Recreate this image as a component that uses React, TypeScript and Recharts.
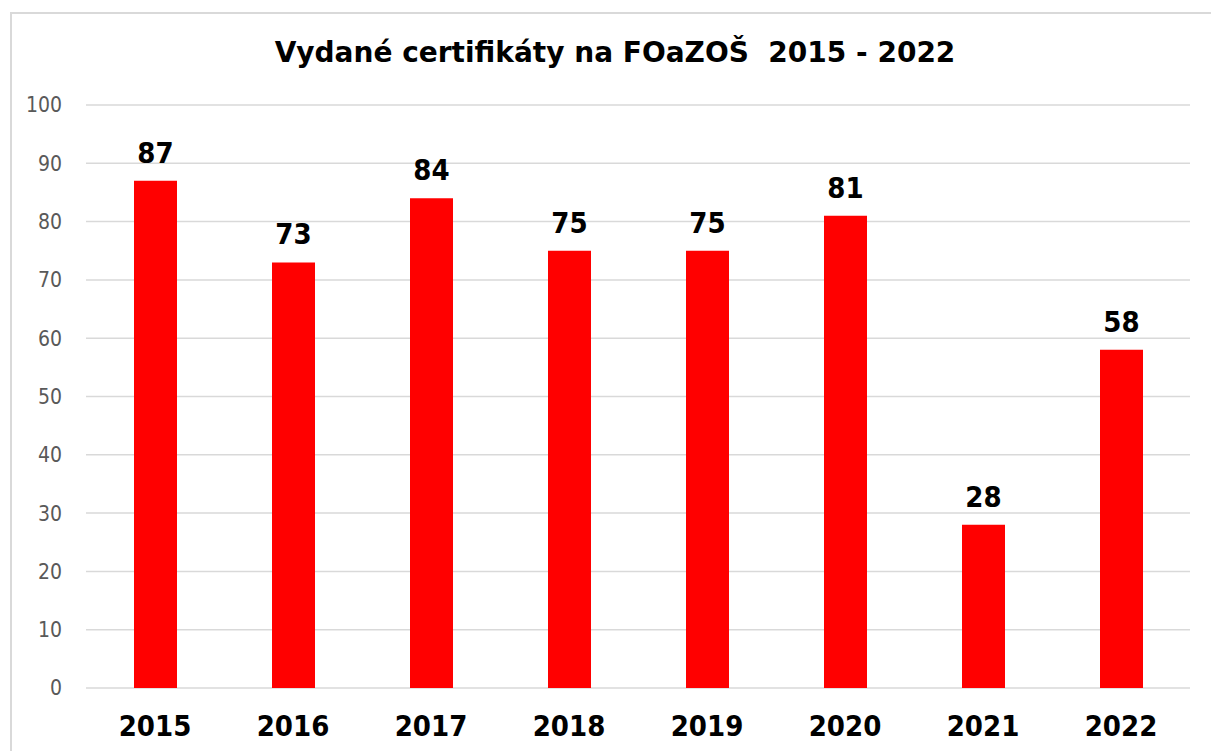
import React from "react";
import { BarChart, Bar, XAxis, YAxis, CartesianGrid, LabelList } from "recharts";

const years = ["2015", "2016", "2017", "2018", "2019", "2020", "2021", "2022"];
const certificates = [87, 73, 84, 75, 75, 81, 28, 58];
const yTicks = [0, 10, 20, 30, 40, 50, 60, 70, 80, 90, 100];
const title = "Vydané certifikáty na FOaZOŠ  2015 - 2022";

const data = years.map((y, i) => ({ year: y, value: certificates[i] }));

const FONT = "'DejaVu Sans Condensed', 'DejaVu Sans', sans-serif";
const TITLE_FONT = "'DejaVu Sans', sans-serif";

export default function App() {
  return (
    <div style={{ position: "absolute", left: 0, top: 0, width: 1211, height: 751, overflow: "hidden", background: "#fff" }}>
      <div
        style={{
          position: "absolute",
          left: 10,
          top: 12,
          width: 1260,
          height: 800,
          border: "2px solid #d9d9d9",
          boxSizing: "border-box",
        }}
      />
      <div
        style={{
          position: "absolute",
          left: 0,
          width: 1230,
          top: 33,
          textAlign: "center",
          fontFamily: TITLE_FONT,
          fontWeight: "bold",
          fontSize: 28,
          color: "#000",
          whiteSpace: "pre",
          lineHeight: "40px",
        }}
      >
        {title}
      </div>
      <div style={{ position: "absolute", left: 0, top: 0 }}>
        <BarChart
          width={1211}
          height={751}
          data={data}
          margin={{ top: 105, right: 21, bottom: 0, left: 0 }}
          barSize={43}
        >
          <CartesianGrid vertical={false} stroke="#d9d9d9" strokeWidth={1.5} />
          <XAxis
            dataKey="year"
            axisLine={false}
            tickLine={false}
            tickSize={0}
            tickMargin={27}
            height={63}
            tick={{ fontFamily: FONT, fontWeight: "bold", fontSize: 29, fill: "#000" }}
            interval={0}
          />
          <YAxis
            domain={[0, 100]}
            ticks={yTicks}
            axisLine={false}
            tickLine={false}
            tickSize={0}
            tickMargin={24}
            width={86}
            tick={{ fontFamily: FONT, fontSize: 21, fill: "#595959" }}
            interval={0}
          />
          <Bar dataKey="value" fill="#ff0000" isAnimationActive={false}>
            <LabelList
              dataKey="value"
              position="top"
              offset={18}
              style={{ fontFamily: FONT, fontWeight: "bold", fontSize: 29, fill: "#000" }}
            />
          </Bar>
        </BarChart>
      </div>
    </div>
  );
}
